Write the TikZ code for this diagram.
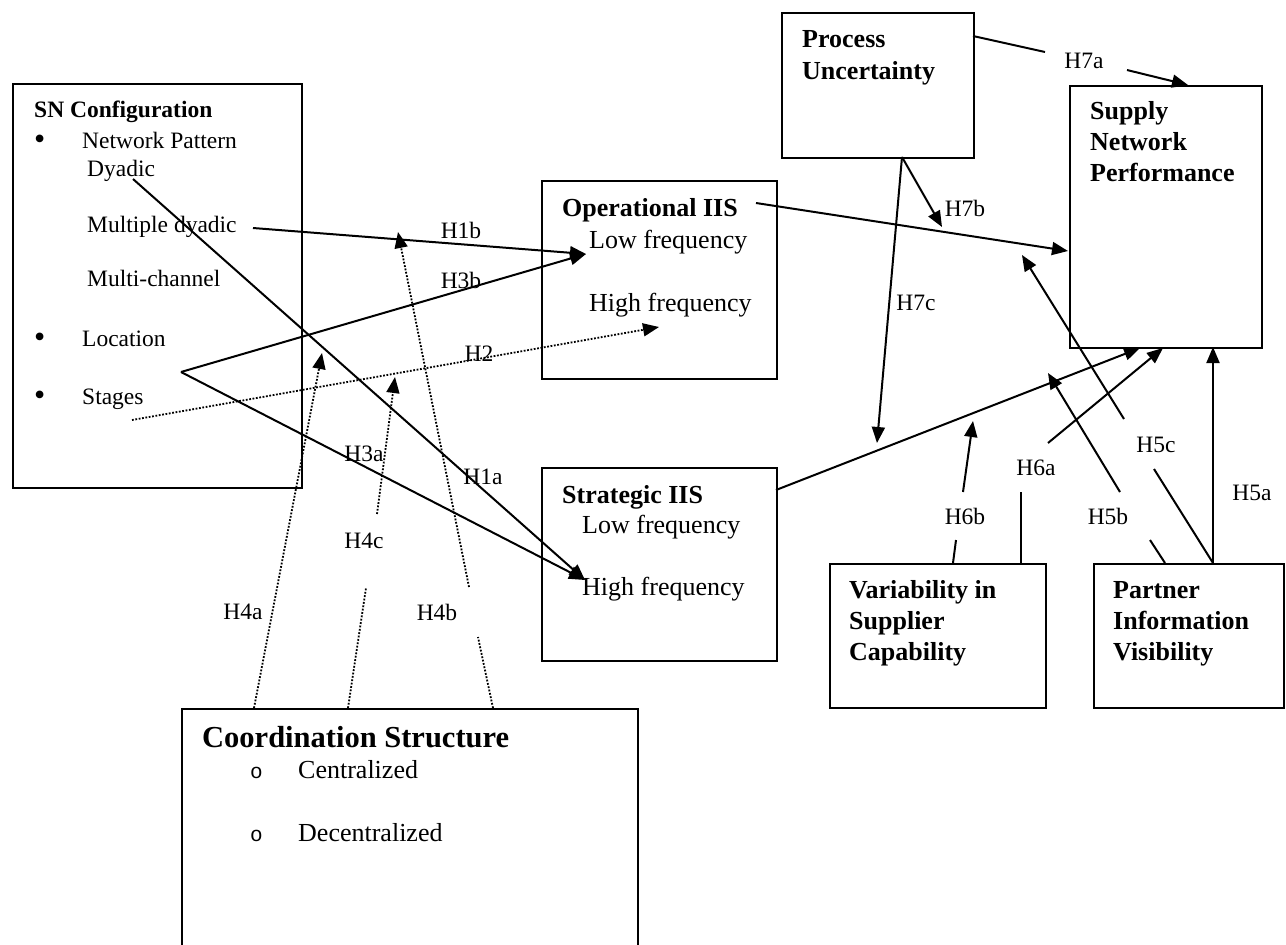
\documentclass[tikz,border=0pt]{standalone}
\usepackage{fontspec}
\setmainfont{Liberation Serif}
\newfontfamily\monofnt{Liberation Mono}
\usetikzlibrary{arrows.meta}
\begin{document}
\begin{tikzpicture}[x=1pt,y=-1pt,
  box/.style={draw, line width=2pt, anchor=north west, inner sep=0pt},
  txt/.style={anchor=base west, inner sep=0pt, font=\fontsize{23.5}{28}\selectfont},
  bul/.style={anchor=base west, inner sep=0pt, font=\fontsize{32}{36}\selectfont},
  btxt/.style={anchor=base west, inner sep=0pt, font=\fontsize{23.5}{28}\selectfont\bfseries},
  ltxt/.style={anchor=base west, inner sep=0pt, font=\fontsize{26}{31}\selectfont},
  lbtxt/.style={anchor=base west, inner sep=0pt, font=\fontsize{26}{31}\selectfont\bfseries},
  hlab/.style={inner sep=0pt, font=\fontsize{23.5}{28}\selectfont},
  conn/.style={line width=2pt, -{Triangle[length=16pt,width=13pt]}},
  seg/.style={line width=2pt},
  dconn/.style={line width=1.8pt, dash pattern=on 1.8pt off 1.6pt, -{Triangle[length=16pt,width=13pt]}},
  dseg/.style={line width=1.8pt, dash pattern=on 1.8pt off 1.6pt}
]
\useasboundingbox (0,0) rectangle (1286,945);
\clip (0,0) rectangle (1286,945);

% boxes
\node[box, minimum width=289pt, minimum height=404pt] (sn) at (12,83) {};
\node[box, minimum width=235pt, minimum height=198pt] (op) at (541,180) {};
\node[box, minimum width=235pt, minimum height=193pt] (st) at (541,467) {};
\node[box, minimum width=192pt, minimum height=145pt] (pu) at (781,12) {};
\node[box, minimum width=192pt, minimum height=262pt] (snp) at (1069,85) {};
\node[box, minimum width=216pt, minimum height=144pt] (var) at (829,563) {};
\node[box, minimum width=190pt, minimum height=144pt] (pv) at (1093,563) {};
\node[box, minimum width=456pt, minimum height=260pt] (cs) at (181,708) {};

% SN configuration texts
\node[btxt] (snh) at (34,117) {SN Configuration};
\node[bul] (b1) at (34,149) {•};
\node[txt] (np) at (82,148) {Network Pattern};
\node[txt] (dy) at (87,176) {Dyadic};
\node[txt] (md) at (87,232) {Multiple dyadic};
\node[txt] (mc) at (87,286) {Multi-channel};
\node[bul] (b2) at (34,347) {•};
\node[txt] (lo) at (82,346) {Location};
\node[bul] (b3) at (34,405) {•};
\node[txt] (sg) at (82,404) {Stages};

% Operational / Strategic
\node[lbtxt] (oph) at (562,216) {Operational IIS};
\node[ltxt] (oplf) at (589,248) {Low frequency};
\node[ltxt] (ophf) at (589,311) {High frequency};
\node[lbtxt] (sth) at (562,503) {Strategic IIS};
\node[ltxt] (stlf) at (582,533) {Low frequency};
\node[ltxt] (sthf) at (582,595) {High frequency};

% right boxes
\node[lbtxt] (pu1) at (802,47) {Process};
\node[lbtxt] (pu2) at (802,79) {Uncertainty};
\node[lbtxt] (snp1) at (1090,119) {Supply};
\node[lbtxt] (snp2) at (1090,150) {Network};
\node[lbtxt] (snp3) at (1090,181) {Performance};
\node[lbtxt] (var1) at (849,598) {Variability in};
\node[lbtxt] (var2) at (849,629) {Supplier};
\node[lbtxt] (var3) at (849,660) {Capability};
\node[lbtxt] (pv1) at (1113,598) {Partner};
\node[lbtxt] (pv2) at (1113,629) {Information};
\node[lbtxt] (pv3) at (1113,660) {Visibility};

% coordination structure
\node[anchor=base west, inner sep=0pt, font=\fontsize{30.5}{36}\selectfont\bfseries] (csh) at (202,747) {Coordination Structure};
\node[anchor=base west, inner sep=0pt, font=\fontsize{21}{26}\monofnt] (o1) at (250,778) {o};
\node[ltxt] (ce) at (298,778) {Centralized};
\node[anchor=base west, inner sep=0pt, font=\fontsize{21}{26}\monofnt] (o2) at (250,841) {o};
\node[ltxt] (de) at (298,841) {Decentralized};

% hypothesis labels
\node[hlab] (lh1b) at (461,230) {H1b};
\node[hlab] (lh3b) at (461,280) {H3b};
\node[hlab] (lh2) at (479,354) {H2};
\node[hlab] (lh3a) at (364,454) {H3a};
\node[hlab] (lh1a) at (483,477) {H1a};
\node[hlab] (lh4c) at (364,541) {H4c};
\node[hlab] (lh4a) at (243,612) {H4a};
\node[hlab] (lh4b) at (437,612) {H4b};
\node[hlab] (lh7a) at (1084,61) {H7a};
\node[hlab] (lh7b) at (965,208) {H7b};
\node[hlab] (lh7c) at (916,303) {H7c};
\node[hlab] (lh6a) at (1036,468) {H6a};
\node[hlab] (lh6b) at (965,516) {H6b};
\node[hlab] (lh5b) at (1108,516) {H5b};
\node[hlab] (lh5c) at (1156,445) {H5c};
\node[hlab] (lh5a) at (1252,493) {H5a};

% connector end points
\coordinate (cdy) at (133,179);
\coordinate (cmd) at (253,228);
\coordinate (cloc) at (181,372);
\coordinate (cstg) at (132,420);
\coordinate (top) at (586,254);
\coordinate (tst) at (585,580);
\coordinate (th2) at (659,327);
\coordinate (a0) at (254,708);
\coordinate (a1) at (322,353);
\coordinate (b0) at (348,708);
\coordinate (b1) at (366,588);
\coordinate (b2) at (377,514);
\coordinate (b3) at (395,377);
\coordinate (d0) at (493,708);
\coordinate (d1) at (478,637);
\coordinate (d2) at (469,587);
\coordinate (d3) at (398,232);
\coordinate (ops) at (756,203);
\coordinate (opt) at (1068,251);
\coordinate (sts) at (776,490);
\coordinate (stt) at (1140,348);
\coordinate (h7a0) at (973,36);
\coordinate (h7a1) at (1045,52);
\coordinate (h7a2) at (1127,70);
\coordinate (h7a3) at (1188,85);
\coordinate (pub) at (902,157);
\coordinate (h7bt) at (942,227);
\coordinate (h7ct) at (877,443);
\coordinate (h6b0) at (953,563);
\coordinate (h6b1) at (956,540);
\coordinate (h6b2) at (963,492);
\coordinate (h6b3) at (973,421);
\coordinate (h6a0) at (1021,563);
\coordinate (h6a1) at (1021,492);
\coordinate (h6a2) at (1048,443);
\coordinate (h6a3) at (1163,348);
\coordinate (h5a0) at (1213,563);
\coordinate (h5a1) at (1213,347);
\coordinate (h5c1) at (1154,469);
\coordinate (h5c2) at (1124,419);
\coordinate (h5c3) at (1022,255);
\coordinate (h5b0) at (1165,563);
\coordinate (h5b1) at (1150,540);
\coordinate (h5b2) at (1120,492);
\coordinate (h5b3) at (1048,373);

% left connectors
\draw[conn] (cmd) -- (top);
\draw[conn] (cloc) -- (top);
\draw[conn] (cdy) -- (tst);
\draw[conn] (cloc) -- (tst);
\draw[dconn] (cstg) -- (th2);
\draw[dconn] (a0) -- (a1);
\draw[dseg] (b0) -- (b1);
\draw[dconn] (b2) -- (b3);
\draw[dseg] (d0) -- (d1);
\draw[dconn] (d2) -- (d3);

% right connectors
\draw[conn] (ops) -- (opt);
\draw[conn] (sts) -- (stt);
\draw[seg] (h7a0) -- (h7a1);
\draw[conn] (h7a2) -- (h7a3);
\draw[conn] (pub) -- (h7bt);
\draw[conn] (pub) -- (h7ct);
\draw[seg] (h6b0) -- (h6b1);
\draw[conn] (h6b2) -- (h6b3);
\draw[seg] (h6a0) -- (h6a1);
\draw[conn] (h6a2) -- (h6a3);
\draw[conn] (h5a0) -- (h5a1);
\draw[seg] (h5a0) -- (h5c1);
\draw[conn] (h5c2) -- (h5c3);
\draw[seg] (h5b0) -- (h5b1);
\draw[conn] (h5b2) -- (h5b3);
\end{tikzpicture}
\end{document}
